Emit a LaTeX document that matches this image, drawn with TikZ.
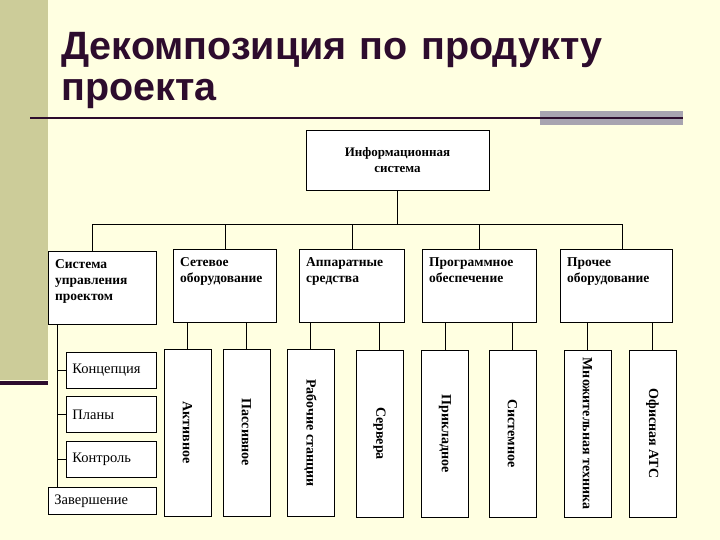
\documentclass[tikz,border=0pt]{standalone}
\usepackage{fontspec}
\setmainfont{Liberation Serif}
\newfontfamily\titlefont{Liberation Sans}
\definecolor{bgcream}{RGB}{255,255,225}
\definecolor{bandolive}{RGB}{204,204,153}
\definecolor{titlepurple}{RGB}{45,12,45}
\definecolor{bargray}{RGB}{168,164,176}
\tikzset{
  box/.style={draw, fill=white, line width=.9pt, inner sep=0pt},
  head/.style={box, anchor=north west, minimum height=73pt},
  headlbl/.style={anchor=north west, align=left, inner sep=0pt, xshift=7pt, yshift=-8pt,
    font=\bfseries\fontsize{13.5}{16}\selectfont},
  phase/.style={box, anchor=north west, minimum height=36pt, align=left,
    inner xsep=6pt, font=\fontsize{14.5}{16}\selectfont},
  part/.style={box, rotate=-90, minimum width=167pt, minimum height=47pt,
    font=\bfseries\fontsize{14}{16}\selectfont}
}
\begin{document}
\begin{tikzpicture}[x=1pt, y=-1pt]
\useasboundingbox (0,0) rectangle (720,540);
\fill[bgcream] (0,0) rectangle (720,540);
\fill[bandolive] (0,0) rectangle (48,380);
\fill[titlepurple] (0,381) rectangle (48,385);
% title
\node[anchor=base west, inner sep=0pt, text width=650pt, align=left, text=titlepurple,
  font=\titlefont\bfseries\fontsize{39.5}{41}\selectfont] (title) at (61,60)
  {Декомпозиция по продукту\\проекта};
\fill[bargray] (540,111) rectangle (683,125);
\draw[line width=2pt, titlepurple] (30,118) -- (683,118);

% top of the tree
\node[box, minimum width=183pt, minimum height=60pt, align=center,
  font=\bfseries\fontsize{13}{16}\selectfont] (info) at (397.5,160)
  {Информационная\\система};
\node[head, minimum width=108pt, label={[headlbl]north west:{Система\\управления\\проектом}}] (pm) at (48,251) {};
\node[head, minimum width=103pt, label={[headlbl]north west:{Сетевое\\оборудование}}] (net) at (173,249) {};
\node[head, minimum width=105pt, label={[headlbl]north west:{Аппаратные\\средства}}] (hw) at (299,249) {};
\node[head, minimum width=114pt, label={[headlbl]north west:{Программное\\обеспечение}}] (sw) at (422,249) {};
\node[head, minimum width=112pt, label={[headlbl]north west:{Прочее\\оборудование}}] (misc) at (560,249) {};

\coordinate (bus) at ([yshift=-34pt]info.south);
\draw[line width=.9pt] (info) -- (bus);
\draw[line width=.9pt] ([xshift=-10pt]pm.north) |- (bus) -| ([xshift=6pt]misc.north);
\foreach \n in {net,hw,sw}
{
    \draw[line width=.9pt] (\n.north) -- (\n.north |- bus);
}

% project management phases
\node[phase, text width=78pt] (concept) at (66,352) {Концепция};
\node[phase, text width=78pt] (plans) at (66,396) {Планы};
\node[phase, text width=78pt] (control) at (66,441) {Контроль};
\node[phase, text width=96pt, minimum height=27pt] (finish) at (48,487) {Завершение};
\coordinate (trunk) at ([xshift=9pt]pm.south west);
\draw[line width=.9pt] (trunk) -- (trunk |- finish.north);
\foreach \c in {concept,plans,control}
{
    \draw[line width=.9pt] (trunk |- \c.west) -- (\c.west);
}

% product parts
\node[part] (active) at (187.5,432.5) {Активное};
\node[part] (passive) at (246.5,432.5) {Пассивное};
\node[part] (ws) at (310.5,433) {Рабочие станции};
\node[part] (srv) at (379.5,433.5) {Сервера};
\node[part] (app) at (445,433.5) {Прикладное};
\node[part] (syssw) at (512.5,433.5) {Системное};
\node[part] (copier) at (587.5,433.5) {Множительная техника};
\node[part] (pbx) at (652.5,433.5) {Офисная АТС};
\foreach \p/\c in {net/active, net/passive, hw/ws, hw/srv, sw/app, sw/syssw, misc/copier, misc/pbx}
{
    \draw[line width=.9pt] (\p.south -| \c) -- (\c);
}
\end{tikzpicture}
\end{document}
